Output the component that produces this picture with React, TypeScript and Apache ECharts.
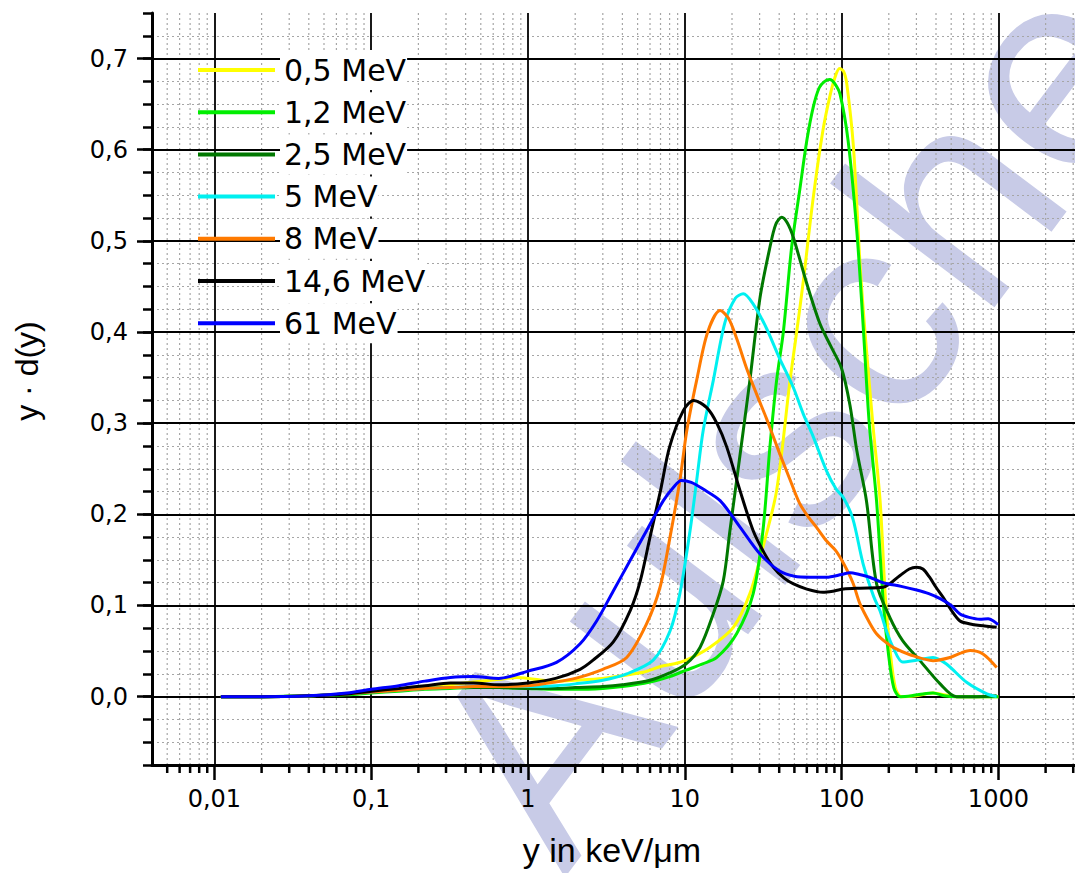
import React, { useEffect, useRef } from 'react';
import * as echarts from 'echarts';

// ---- legend / series meta ----
const seriesNames = ['0,5 MeV', '1,2 MeV', '2,5 MeV', '5 MeV', '8 MeV', '14,6 MeV', '61 MeV'];
const seriesColors = ['#ffff00', '#00ee00', '#007800', '#00f0f0', '#ff7a00', '#000000', '#0000ff'];

// ---- data (x in keV/µm, y = y·d(y)) ----
const x05 = [0.011, 0.02, 0.04, 0.07, 0.1, 0.15, 0.22, 0.32, 0.45, 0.65, 0.85, 1.1, 1.5, 2, 3, 4, 5.5, 7, 8.6, 10.2, 14.4, 20.4, 26, 31.5, 38.5, 46.9, 51.7, 57, 66, 76, 84, 91, 97, 103, 108, 119, 131, 141, 158, 176, 190, 204, 220, 240, 300, 380, 450, 550, 700, 1000];
const y05 = [0, 0, 0.001, 0.003, 0.005, 0.008, 0.011, 0.013, 0.016, 0.019, 0.021, 0.019, 0.017, 0.018, 0.02, 0.023, 0.027, 0.033, 0.036, 0.04, 0.054, 0.076, 0.113, 0.164, 0.226, 0.347, 0.4, 0.456, 0.548, 0.621, 0.658, 0.68, 0.689, 0.686, 0.672, 0.603, 0.475, 0.4, 0.3, 0.215, 0.11, 0.05, 0.01, 0, 0.001, 0.004, 0.002, 0, 0, 0];

const x12 = [0.011, 0.02, 0.04, 0.07, 0.1, 0.15, 0.22, 0.32, 0.45, 0.65, 1, 1.5, 2, 3, 4, 6, 8, 10.2, 13, 16, 21.4, 27.3, 31.5, 34.9, 38.5, 42.5, 48, 54, 60, 66, 72, 78, 84, 90, 97.7, 110, 125, 137, 150, 167, 185, 198, 215, 236, 280, 330, 383, 450, 550, 700, 1000];
const y12 = [0, 0, 0.001, 0.002, 0.004, 0.006, 0.008, 0.009, 0.01, 0.01, 0.009, 0.008, 0.008, 0.009, 0.011, 0.016, 0.022, 0.029, 0.036, 0.043, 0.069, 0.113, 0.182, 0.274, 0.347, 0.4, 0.493, 0.555, 0.61, 0.647, 0.668, 0.675, 0.677, 0.673, 0.661, 0.61, 0.511, 0.409, 0.3, 0.215, 0.1, 0.05, 0.01, 0, 0.001, 0.003, 0.004, 0.001, 0, 0, 0];

const x25 = [0.011, 0.02, 0.04, 0.07, 0.1, 0.15, 0.22, 0.32, 0.45, 0.65, 1, 1.5, 2, 3, 4, 6, 8, 10.2, 12.5, 15.2, 17.6, 19.4, 21.4, 23.6, 26, 30.2, 34.9, 38, 41.5, 45, 49.2, 60, 72.8, 85, 100, 113, 125, 144, 167, 203, 245, 316, 425, 540, 720, 975];
const y25 = [0, 0, 0.001, 0.003, 0.005, 0.007, 0.009, 0.01, 0.01, 0.01, 0.009, 0.009, 0.01, 0.011, 0.013, 0.018, 0.026, 0.036, 0.054, 0.091, 0.127, 0.182, 0.237, 0.292, 0.347, 0.438, 0.493, 0.518, 0.526, 0.52, 0.504, 0.453, 0.409, 0.385, 0.36, 0.32, 0.27, 0.215, 0.124, 0.087, 0.0615, 0.0395, 0.014, 0, 0, 0.001];

const x5 = [0.011, 0.02, 0.04, 0.07, 0.1, 0.15, 0.22, 0.32, 0.45, 0.65, 1, 1.5, 2, 3, 4.26, 6.29, 8.05, 9.3, 10.8, 11.9, 13.1, 15.2, 18, 21, 23.6, 27, 33, 40, 49, 57, 66, 80, 92, 103, 118, 137, 160, 176, 195, 213, 245, 300, 383, 464, 627, 844, 975];
const y5 = [0, 0, 0.001, 0.003, 0.005, 0.007, 0.009, 0.01, 0.011, 0.011, 0.011, 0.012, 0.014, 0.018, 0.025, 0.04, 0.072, 0.113, 0.182, 0.237, 0.292, 0.347, 0.41, 0.437, 0.442, 0.432, 0.405, 0.372, 0.34, 0.31, 0.285, 0.248, 0.228, 0.218, 0.195, 0.146, 0.11, 0.094, 0.07, 0.054, 0.038, 0.04, 0.043, 0.036, 0.0157, 0.003, 0];

const x8 = [0.011, 0.02, 0.04, 0.07, 0.1, 0.15, 0.22, 0.32, 0.45, 0.65, 1, 1.5, 2, 3, 4.26, 5.71, 6.95, 8.05, 9.3, 10.3, 11.9, 14, 16.8, 19, 21.5, 24.8, 29, 33.2, 40, 46.9, 54, 62, 69, 80, 92, 103, 118, 131, 152, 167, 190, 213, 273, 383, 491, 580, 660, 797, 975];
const y8 = [0, 0, 0.001, 0.003, 0.005, 0.007, 0.009, 0.01, 0.011, 0.011, 0.012, 0.016, 0.02, 0.03, 0.043, 0.08, 0.12, 0.175, 0.237, 0.292, 0.347, 0.4, 0.4235, 0.415, 0.392, 0.36, 0.33, 0.305, 0.268, 0.238, 0.212, 0.196, 0.186, 0.171, 0.16, 0.146, 0.125, 0.1017, 0.08, 0.069, 0.06, 0.054, 0.046, 0.0395, 0.043, 0.048, 0.0505, 0.0468, 0.032];

const x146 = [0.011, 0.02, 0.04, 0.07, 0.1, 0.15, 0.22, 0.32, 0.45, 0.65, 1, 1.5, 2.15, 2.6, 3.5, 4.5, 5.2, 6, 7, 8, 9.8, 11.4, 13.8, 16, 18.5, 22.5, 27.3, 32, 36.7, 43, 49, 60, 76, 90, 103, 131, 184, 236, 270, 300, 330, 364, 400, 444, 500, 569, 650, 764, 975];
const y146 = [0, 0, 0.001, 0.003, 0.006, 0.009, 0.012, 0.015, 0.015, 0.013, 0.015, 0.02, 0.03, 0.04, 0.06, 0.095, 0.127, 0.175, 0.226, 0.274, 0.314, 0.325, 0.317, 0.3, 0.274, 0.226, 0.182, 0.158, 0.142, 0.13, 0.124, 0.118, 0.1145, 0.116, 0.118, 0.119, 0.12, 0.133, 0.14, 0.142, 0.14, 0.131, 0.12, 0.109, 0.095, 0.083, 0.08, 0.078, 0.076];

const x61 = [0.011, 0.02, 0.04, 0.07, 0.1, 0.15, 0.22, 0.32, 0.45, 0.65, 1, 1.52, 2.15, 2.74, 3.5, 4.47, 5.7, 7.3, 8.5, 9.5, 11, 13, 16.8, 22.5, 30, 40, 50, 63, 80, 100, 113, 130, 151, 184, 240, 301, 360, 425, 500, 569, 650, 764, 861, 930, 995];
const y61 = [0, 0, 0.001, 0.004, 0.008, 0.012, 0.017, 0.021, 0.022, 0.02, 0.028, 0.0376, 0.058, 0.083, 0.116, 0.149, 0.182, 0.215, 0.23, 0.237, 0.235, 0.228, 0.215, 0.186, 0.157, 0.138, 0.132, 0.131, 0.131, 0.134, 0.136, 0.134, 0.131, 0.125, 0.121, 0.117, 0.113, 0.1075, 0.1, 0.0907, 0.087, 0.085, 0.0855, 0.083, 0.079];

const seriesX = [x05, x12, x25, x5, x8, x146, x61];
const seriesY = [y05, y12, y25, y5, y8, y146, y61];

// ---- axes ----
const X_MIN = 0.004;
const X_MAX = 5000;
const Y_MIN = -0.075;
const Y_MAX = 0.75;
const xMinorTicks = [
  0.005, 0.006, 0.007, 0.008, 0.009,
  0.02, 0.03, 0.04, 0.05, 0.06, 0.07, 0.08, 0.09,
  0.2, 0.3, 0.4, 0.5, 0.6, 0.7, 0.8, 0.9,
  2, 3, 4, 5, 6, 7, 8, 9,
  20, 30, 40, 50, 60, 70, 80, 90,
  200, 300, 400, 500, 600, 700, 800, 900,
  2000, 3000, 4000,
];

const xTitle = 'y in keV/\u03bcm';
const yTitle = 'y \u00b7 d(y)';
const watermark = 'Aulsche';

const TICK_FONT = 'DejaVu Sans';

export default function App() {
  const ref = useRef<HTMLDivElement>(null);

  useEffect(() => {
    if (!ref.current) return;
    const chart = echarts.init(ref.current, null, { renderer: 'svg' });

    const lineSeries = seriesNames.map((name, i) => ({
      type: 'line',
      name,
      data: seriesX[i].map((x, j) => [x, seriesY[i][j]]),
      showSymbol: false,
      symbol: 'none',
      smooth: 0.3,
      lineStyle: { color: seriesColors[i], width: 3 },
      itemStyle: { color: seriesColors[i] },
      emphasis: { disabled: true },
      silent: true,
      z: 3,
    }));

    const minorSeries = {
      type: 'custom',
      name: 'minor',
      silent: true,
      clip: false,
      z: -1,
      data: xMinorTicks.map((v) => [v, 0]),
      renderItem: (params: any, api: any) => {
        const x = api.value(0);
        const top = api.coord([x, Y_MAX]);
        const bot = api.coord([x, Y_MIN]);
        return {
          type: 'group',
          children: [
            {
              type: 'line',
              shape: { x1: top[0], y1: top[1], x2: bot[0], y2: bot[1] },
              style: { stroke: '#a6a6a6', lineWidth: 1.2, lineDash: [2, 3] },
            },
            {
              type: 'line',
              shape: { x1: bot[0], y1: bot[1], x2: bot[0], y2: bot[1] + 8 },
              style: { stroke: '#000', lineWidth: 2.5 },
            },
          ],
        };
      },
    };

    chart.setOption({
      animation: false,
      backgroundColor: '#ffffff',
      grid: {
        left: 152,
        top: 13,
        width: 956,
        height: 752,
        containLabel: false,
        outerBoundsMode: 'none',
      },
      legend: {
        data: seriesNames,
        orient: 'vertical',
        left: 198,
        top: 50,
        padding: 0,
        icon: 'path://M0 0H77V4H0Z',
        itemWidth: 77,
        itemHeight: 40,
        itemGap: 2.2,
        selectedMode: false,
        textStyle: {
          fontFamily: TICK_FONT,
          fontSize: 30,
          color: '#000',
          backgroundColor: '#ffffff',
          padding: [0, 1, 0, 4],
          lineHeight: 40,
        },
      },
      xAxis: [
        {
          type: 'log',
          logBase: 10,
          min: X_MIN,
          max: X_MAX,
          splitNumber: 5,
          axisLine: { show: true, onZero: false, lineStyle: { color: '#000', width: 3 } },
          axisTick: { show: true, length: 15, lineStyle: { color: '#000', width: 2.5 } },
          axisLabel: {
            show: true,
            margin: 22,
            color: '#000',
            fontFamily: TICK_FONT,
            fontSize: 24,
            showMinLabel: false,
            showMaxLabel: false,
            formatter: (v: number) => String(Number(v.toPrecision(4))).replace('.', ','),
          },
          splitLine: {
            show: true,
            showMinLine: false,
            showMaxLine: false,
            lineStyle: { color: '#000', width: 1.8, type: 'solid' },
          },
          minorTick: { show: false },
          minorSplitLine: { show: false },
          z: 0,
        },
      ],
      yAxis: [
        {
          type: 'value',
          position: 'left',
          offset: 0,
          min: Y_MIN,
          max: Y_MAX,
          splitNumber: 8,
          axisLine: { show: true, onZero: false, lineStyle: { color: '#000', width: 3 } },
          axisTick: { show: true, length: 15, lineStyle: { color: '#000', width: 2.5 } },
          axisLabel: {
            show: true,
            margin: 24,
            color: '#000',
            fontFamily: TICK_FONT,
            fontSize: 24,
            showMinLabel: false,
            showMaxLabel: false,
            formatter: (v: number) => v.toFixed(1).replace('.', ','),
          },
          splitLine: {
            show: true,
            showMinLine: false,
            showMaxLine: false,
            lineStyle: { color: '#000', width: 1.8, type: 'solid' },
          },
          z: 0,
        },
        {
          type: 'value',
          position: 'left',
          offset: 0,
          min: Y_MIN,
          max: Y_MAX,
          interval: 0.025,
          axisLine: { show: false },
          axisTick: { show: true, length: 9, lineStyle: { color: '#000', width: 2.5 } },
          axisLabel: { show: false },
          splitLine: {
            show: true,
            showMinLine: false,
            showMaxLine: false,
            lineStyle: { color: '#a6a6a6', width: 1.2, type: [2, 3] },
          },
          z: -1,
        },
      ],
      graphic: [
        {
          type: 'text',
          x: 790,
          y: 415,
          rotation: (53 * Math.PI) / 180,
          z: -5,
          silent: true,
          style: {
            text: watermark,
            fontFamily: 'Liberation Sans',
            fontSize: 284,
            fill: '#c8cbe7',
            align: 'center',
            verticalAlign: 'middle',
            textAlign: 'center',
            textVerticalAlign: 'middle',
          },
        },
        {
          type: 'text',
          x: 612,
          y: 850,
          z: 10,
          style: {
            text: xTitle,
            fontFamily: 'Liberation Sans',
            fontSize: 34,
            fill: '#000',
            align: 'center',
            verticalAlign: 'middle',
            textAlign: 'center',
            textVerticalAlign: 'middle',
          },
        },
        {
          type: 'text',
          x: 27,
          y: 371,
          rotation: Math.PI / 2,
          z: 10,
          style: {
            text: yTitle,
            fontFamily: 'Liberation Sans',
            fontSize: 32,
            fill: '#000',
            align: 'center',
            verticalAlign: 'middle',
            textAlign: 'center',
            textVerticalAlign: 'middle',
          },
        },
      ],
      series: [minorSeries, ...lineSeries],
    });

    return () => {
      chart.dispose();
    };
  }, []);

  return (
    <div
      ref={ref}
      style={{ position: 'fixed', left: 0, top: 0, width: 1075, height: 873, background: '#fff' }}
    />
  );
}
